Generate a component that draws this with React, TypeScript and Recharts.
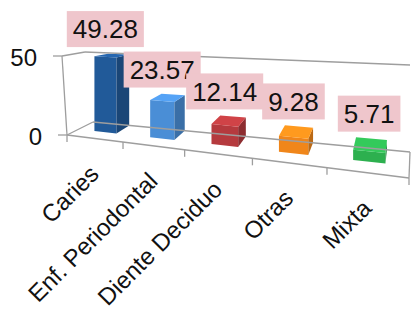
import React from "react";
import { BarChart, Bar, XAxis, YAxis, ReferenceLine, LabelList, Cell } from "recharts";

const categories = ["Caries", "Enf. Periodontal", "Diente Deciduo", "Otras", "Mixta"];
const percentages = [49.28, 23.57, 12.14, 9.28, 5.71];
const yTicks = [0, 50];

const barColors = ["#215A99", "#4A8ED6", "#B53A3E", "#F0861A", "#2DB04F"];

const data = categories.map((name, i) => ({ name, value: percentages[i] }));

const FONT = "'Liberation Sans', Arial, sans-serif";

// flat plot area used by the recharts scales
const PL = 60;
const PR = 404;
const PT = 60;
const PB = 200;
const PW = PR - PL;
const PH = PB - PT;

// perspective box: front/back floor corners and wall heights (px)
const FLB = [67, 135];
const FRB = [409, 178];
const BLB = [93, 122];
const BRB = [410, 152];
const HF = [79, 98];
const HB = [70, 87];
const BAR_D0 = 0.45;
const BAR_D1 = 1;
const GRID = "#9E9E9E";

const lerp = (a: number, b: number, t: number) => a + (b - a) * t;
const warp = (u: number) => (Math.pow(1.1, 5 * u) - 1) / (Math.pow(1.1, 5) - 1);

// u: along categories, d: depth (0 front, 1 back), f: fraction of max value
function project(u: number, d: number, f: number): [number, number] {
  const t = warp(u);
  const fx = lerp(FLB[0], FRB[0], t);
  const fy = lerp(FLB[1], FRB[1], t);
  const bx = lerp(BLB[0], BRB[0], t);
  const by = lerp(BLB[1], BRB[1], t);
  const h = lerp(lerp(HF[0], HF[1], t), lerp(HB[0], HB[1], t), d);
  return [lerp(fx, bx, d), lerp(fy, by, d) - h * f];
}

function shade(hex: string, k: number) {
  const n = parseInt(hex.slice(1), 16);
  const c = [(n >> 16) & 255, (n >> 8) & 255, n & 255].map((v) =>
    Math.max(0, Math.min(255, Math.round(v * k)))
  );
  return `rgb(${c[0]},${c[1]},${c[2]})`;
}

const pts = (list: [number, number][]) => list.map((p) => p.join(",")).join(" ");

function Bar3D(props: any) {
  const { x, y, width, index } = props;
  const color = barColors[index] ?? props.fill;
  const u0 = (x - PL) / PW;
  const u1 = (x + width - PL) / PW;
  const f = (PB - y) / PH;
  const front = pts([
    project(u0, BAR_D0, 0),
    project(u1, BAR_D0, 0),
    project(u1, BAR_D0, f),
    project(u0, BAR_D0, f),
  ]);
  const side = pts([
    project(u1, BAR_D0, 0),
    project(u1, BAR_D1, 0),
    project(u1, BAR_D1, f),
    project(u1, BAR_D0, f),
  ]);
  const top = pts([
    project(u0, BAR_D0, f),
    project(u1, BAR_D0, f),
    project(u1, BAR_D1, f),
    project(u0, BAR_D1, f),
  ]);
  return (
    <g>
      <polygon points={front} fill={color} />
      <polygon points={side} fill={shade(color, 0.78)} />
      <polygon points={top} fill={shade(color, 1.15)} />
    </g>
  );
}

function ValueBox(props: any) {
  const vb = props.viewBox ?? props;
  const { x, y, width } = vb;
  const value = props.value;
  const u = (x + width / 2 - PL) / PW;
  const f = (PB - y) / PH;
  const cx = project(u, BAR_D0, 0)[0];
  const topY = project(u, BAR_D1, f)[1];
  const text = Number(value).toFixed(2);
  const fs = 26;
  const tw = [...text].reduce((s, ch) => s + (ch === "." ? 0.278 : 0.556), 0) * fs;
  const bw = tw + 12;
  const bh = 36;
  const by = topY - 7 - bh;
  return (
    <g>
      <rect x={cx - bw / 2} y={by} width={bw} height={bh} fill="#EFC6CC" />
      <text
        x={cx}
        y={by + bh / 2 + fs * 0.36}
        textAnchor="middle"
        fontSize={fs}
        fontFamily={FONT}
        fill="#111"
      >
        {text}
      </text>
    </g>
  );
}

function CategoryTick(props: any) {
  const { x, payload } = props;
  const u = (x - PL) / PW;
  const [px, py] = project(u, 0, 0);
  const ax = px + 6;
  const ay = py + 37;
  return (
    <text
      x={ax}
      y={ay}
      transform={`rotate(-45 ${ax} ${ay})`}
      textAnchor="end"
      fontSize={24}
      fontFamily={FONT}
      fill="#111"
    >
      {payload.value}
    </text>
  );
}

function ValueTick(props: any) {
  const { y, payload } = props;
  const f = (PB - y) / PH;
  const [px0, py] = project(0, 0, f);
  const px = px0 - 5 * f;
  return (
    <g>
      <line x1={px - 9} y1={py} x2={px} y2={py} stroke={GRID} strokeWidth={1.3} />
      <text
        x={px - 25}
        y={py + 1 + 24 * 0.36}
        textAnchor="end"
        fontSize={24}
        fontFamily={FONT}
        fill="#111"
      >
        {payload.value}
      </text>
    </g>
  );
}

function Frame() {
  const flb = project(0, 0, 0);
  const flt = project(0, 0, 1);
  flt[0] -= 5;
  const blb = project(0, 1, 0);
  const blt = project(0, 1, 1);
  blt[0] -= 8;
  const brb = project(1, 1, 0);
  const brt = project(1, 1, 1);
  const frb = project(1, 0, 0);
  const segs: [number, number][][] = [
    [flb, flt],
    [flt, blt],
    [blt, brt],
    [flb, blb],
    [blb, brb],
    [flb, frb],
    [brb, frb],
  ];
  for (let k = 0; k <= categories.length; k++) {
    const p = project(k / categories.length, 0, 0);
    segs.push([p, [p[0], p[1] + 7]]);
  }
  return (
    <g>
      {segs.map((s, i) => (
        <line
          key={i}
          x1={s[0][0]}
          y1={s[0][1]}
          x2={s[1][0]}
          y2={s[1][1]}
          stroke={GRID}
          strokeWidth={1.3}
        />
      ))}
    </g>
  );
}

export default function App() {
  return (
    <div style={{ position: "absolute", left: 0, top: 0, background: "#fff" }}>
      <BarChart
        width={414}
        height={314}
        data={data}
        margin={{ top: PT, right: 414 - PR, bottom: 0, left: 0 }}
        barCategoryGap="30%"
      >
        <XAxis
          dataKey="name"
          height={314 - PB}
          axisLine={false}
          tickLine={false}
          interval={0}
          tick={<CategoryTick />}
        />
        <YAxis
          width={PL}
          domain={[0, 50]}
          ticks={yTicks}
          axisLine={false}
          tickLine={false}
          tick={<ValueTick />}
        />
        <ReferenceLine y={0} shape={() => <Frame />} />
        <Bar dataKey="value" shape={Bar3D} isAnimationActive={false}>
          {data.map((d, i) => (
            <Cell key={d.name} fill={barColors[i]} />
          ))}
          <LabelList dataKey="value" content={<ValueBox />} />
        </Bar>
      </BarChart>
    </div>
  );
}
